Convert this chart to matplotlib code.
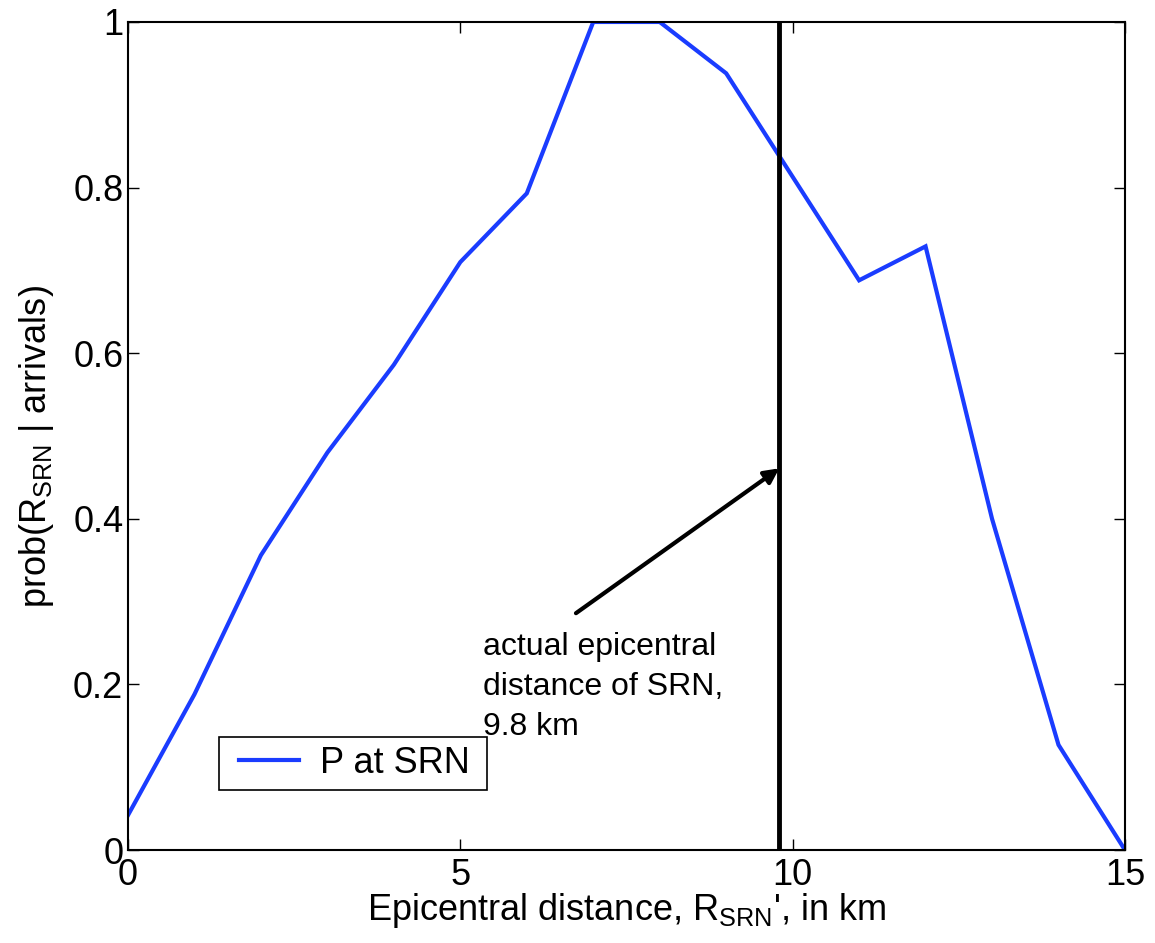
import numpy as np
import matplotlib
matplotlib.use("Agg")
import matplotlib.pyplot as plt
from matplotlib.patches import Rectangle

plt.rcParams['font.family'] = ['Liberation Sans', 'DejaVu Sans']
plt.rcParams['mathtext.fontset'] = 'custom'
plt.rcParams['mathtext.rm'] = 'Liberation Sans'
plt.rcParams['mathtext.it'] = 'Liberation Sans:italic'

# data
distance_km = [0, 1, 2, 3, 4, 5, 6, 7, 8, 9, 10, 11, 12, 13, 14, 15]
prob_p_srn = [0.042, 0.188, 0.356, 0.48, 0.586, 0.71, 0.793, 1.0, 1.0,
              0.938, 0.813, 0.688, 0.729, 0.40, 0.127, 0.0]
actual_dist = 9.8
x_ticks = [0, 5, 10, 15]
y_ticks = [0, 0.2, 0.4, 0.6, 0.8, 1]
y_tick_labels = ["0", "0.2", "0.4", "0.6", "0.8", "1"]

fig = plt.figure(figsize=(11.55, 9.43), dpi=100)
ax = fig.add_axes([0.1108, 0.0986, 0.8632, 0.8781])

ax.plot(distance_km, prob_p_srn, color="#1a3cff", lw=3, label="P at SRN",
        solid_joinstyle="miter")
ax.axvline(actual_dist, color="black", lw=3.5)

# arrow pointing at the actual distance line
ax.annotate("", xy=(actual_dist, 0.461), xytext=(6.74, 0.286),
            arrowprops=dict(arrowstyle="-|>", color="black", lw=3,
                            mutation_scale=22, shrinkA=0, shrinkB=0))
ax.text(5.34, 0.263, "actual epicentral\ndistance of SRN,\n9.8 km",
        fontsize=23, va="top", ha="left", linespacing=1.42)

ax.set_xlim(0, 15)
ax.set_ylim(0, 1)
ax.set_xticks(x_ticks)
ax.set_yticks(y_ticks)
ax.set_yticklabels(y_tick_labels)
ax.tick_params(direction="in", length=8, width=1, labelsize=26,
               top=True, right=True)
ax.tick_params(axis="x", pad=6)
ax.tick_params(axis="y", pad=3.4)
for s in ax.spines.values():
    s.set_linewidth(1.5)

ax.set_xlabel("Epicentral distance, R$_{\\rm SRN}$', in km", fontsize=26,
              labelpad=-2)
ax.set_ylabel("prob(R$_{\\rm SRN}$ | arrivals)", fontsize=26)
ax.yaxis.set_label_coords(-0.072, 0.487)

# legend box drawn separately (MATLAB-style wide side padding)
ax.add_patch(Rectangle((0.091, 0.072), 0.269, 0.064, transform=ax.transAxes,
                       facecolor="white", edgecolor="black", lw=1.2,
                       zorder=4))
leg = ax.legend(loc="center left", bbox_to_anchor=(0.111, 0.105),
                fontsize=26, frameon=False, handlelength=1.66,
                handletextpad=0.6, borderpad=0, borderaxespad=0)
leg.set_zorder(5)

fig.savefig("out.png", dpi=100)
